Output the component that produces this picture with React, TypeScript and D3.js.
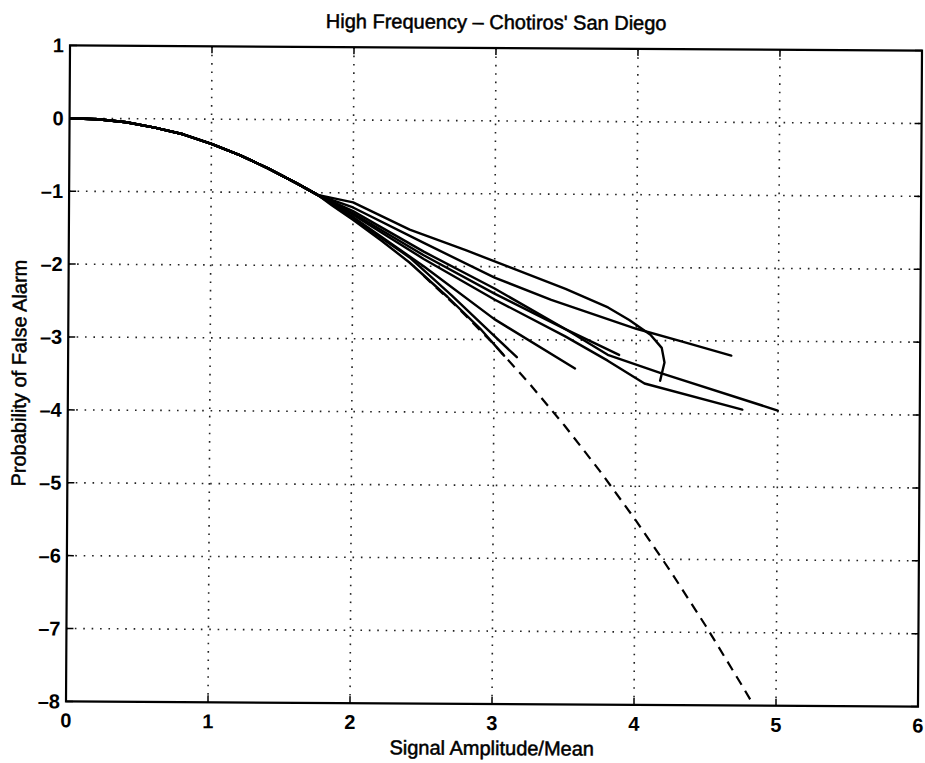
import * as d3 from 'd3';

// tick values
const xTicks = [0, 1, 2, 3, 4, 5, 6];
const yTicks = [1, 0, -1, -2, -3, -4, -5, -6, -7, -8];

// shared start of every measured curve
const start: [number, number][] = [
  [0, 0], [0.2, -0.01], [0.4, -0.05], [0.6, -0.12], [0.8, -0.21],
  [1.0, -0.34], [1.2, -0.49], [1.4, -0.67], [1.6, -0.87], [1.75, -1.03],
];

// measured curves (after they split from the bundle)
const run1: [number, number][] = [[2.0, -1.13], [2.4, -1.5], [2.8, -1.78], [3.1, -2.0], [3.5, -2.3], [3.8, -2.55], [3.95, -2.72], [4.1, -2.92], [4.18, -3.1], [4.2, -3.3], [4.17, -3.55]];
const run2: [number, number][] = [[2.0, -1.2], [2.5, -1.68], [3.0, -2.15], [3.4, -2.45], [4.0, -2.84], [4.3, -3.0], [4.67, -3.2]];
const run3: [number, number][] = [[2.0, -1.25], [2.5, -1.8], [3.0, -2.3], [3.5, -2.85], [3.8, -3.2], [4.18, -3.45], [5.0, -3.95]];
const run4: [number, number][] = [[2.0, -1.3], [2.5, -1.9], [3.0, -2.45], [3.5, -2.95], [3.8, -3.28], [4.06, -3.59], [4.75, -3.94]];
const run5: [number, number][] = [[2.0, -1.28], [2.5, -1.85], [3.0, -2.37], [3.5, -2.85], [3.88, -3.2]];
const run6: [number, number][] = [[2.0, -1.33], [2.5, -2.0], [3.0, -2.72], [3.57, -3.39]];
const run7: [number, number][] = [[1.85, -1.15], [2.0, -1.35], [2.4, -1.88], [2.7, -2.4], [3.0, -2.95], [3.16, -3.24]];
const run8: [number, number][] = [[1.85, -1.17], [2.0, -1.37], [2.2, -1.65], [2.4, -1.95], [2.67, -2.42], [2.9, -2.85], [3.07, -3.22]];
const runs = [run1, run2, run3, run4, run5, run6, run7, run8];

// theoretical (dashed) curve, visible where the measured curves stop
const theory: [number, number][] = [
  [2.5, -2.131], [2.75, -2.58], [3, -3.069], [3.25, -3.602], [3.5, -4.177],
  [3.75, -4.795], [4, -5.456], [4.25, -6.159], [4.5, -6.905], [4.75, -7.694], [4.85, -8.02],
];

export default function App() {
  const width = 925;
  const height = 763;
  const left = 68, right = 920, top = 48, bottom = 704;
  const font = '"Liberation Sans", Arial, Helvetica, sans-serif';

  const x = d3.scaleLinear().domain([0, 6]).range([left, right]);
  const y = d3.scaleLinear().domain([-8, 1]).range([bottom, top]);
  const line = d3.line<[number, number]>().x(d => x(d[0])).y(d => y(d[1])).curve(d3.curveLinear);

  const tick = 7;
  const labelStyle = { fontFamily: font, fontSize: 20, stroke: '#000', strokeWidth: 0.5 };

  return (
    <svg width={width} height={height} style={{ position: 'absolute', left: 0, top: 0, background: '#fff' }}>
      <rect width={width} height={height} fill="#fff" />
      <g transform={`rotate(0.35 ${(left + right) / 2} ${(top + bottom) / 2})`}>
        <defs>
          <clipPath id="plot">
            <rect x={left} y={top} width={right - left} height={bottom - top} />
          </clipPath>
        </defs>
        {/* dotted grid */}
        {xTicks.slice(1, -1).map(t => (
          <line key={'gx' + t} x1={x(t)} x2={x(t)} y1={top} y2={bottom} stroke="#222" strokeWidth={1.6} strokeDasharray="1.6,6.8" />
        ))}
        {yTicks.slice(1, -1).map(t => (
          <line key={'gy' + t} x1={left} x2={right} y1={y(t)} y2={y(t)} stroke="#222" strokeWidth={1.6} strokeDasharray="1.6,6.8" />
        ))}

        <g clipPath="url(#plot)">
          <path d={line(theory) || ''} fill="none" stroke="#000" strokeWidth={2.2} strokeDasharray="10,7" />
          {runs.map((r, i) => (
            <path key={i} d={line([...start, ...r]) || ''} fill="none" stroke="#000" strokeWidth={2.4} strokeLinejoin="round" strokeLinecap="round" />
          ))}
        </g>

        {/* axis box + ticks */}
        <rect x={left} y={top} width={right - left} height={bottom - top} fill="none" stroke="#000" strokeWidth={2.2} />
        {xTicks.map(t => (
          <g key={'tx' + t}>
            <line x1={x(t)} x2={x(t)} y1={bottom} y2={bottom - tick} stroke="#000" strokeWidth={1.5} />
            <line x1={x(t)} x2={x(t)} y1={top} y2={top + tick} stroke="#000" strokeWidth={1.5} />
            <text x={x(t)} y={bottom + 26} textAnchor="middle" fontFamily={font} fontSize={20} fontWeight="bold">{t}</text>
          </g>
        ))}
        {yTicks.map(t => (
          <g key={'ty' + t}>
            <line x1={left} x2={left + tick} y1={y(t)} y2={y(t)} stroke="#000" strokeWidth={1.5} />
            <line x1={right} x2={right - tick} y1={y(t)} y2={y(t)} stroke="#000" strokeWidth={1.5} />
            <text x={left - 6} y={y(t) + 7} textAnchor="end" fontFamily={font} fontSize={20} fontWeight="bold">{t < 0 ? '\u2013' + Math.abs(t) : t}</text>
          </g>
        ))}

        <text x={(left + right) / 2} y={29} textAnchor="middle" {...labelStyle}>High Frequency – Chotiros' San Diego</text>
        <text x={(left + right) / 2} y={755} textAnchor="middle" {...labelStyle}>Signal Amplitude/Mean</text>
        <text transform={`translate(26 ${(top + bottom) / 2}) rotate(-90)`} textAnchor="middle" {...labelStyle}>Probability of False Alarm</text>
      </g>
    </svg>
  );
}
